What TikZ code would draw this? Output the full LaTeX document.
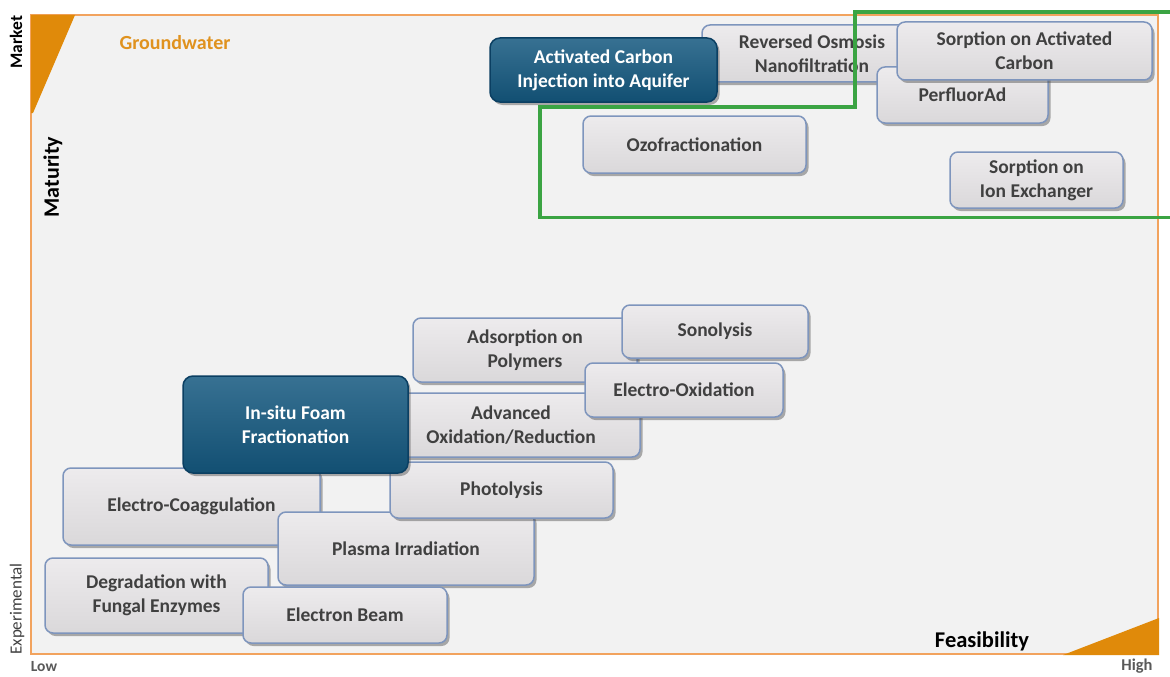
\documentclass[tikz,border=0pt]{standalone}
\usepackage{fontspec}
\setmainfont{Carlito}
\usetikzlibrary{shadows}
\definecolor{frameor}{HTML}{F2A35E}
\definecolor{triangor}{HTML}{E08A0A}
\definecolor{bgray}{HTML}{F2F2F2}
\definecolor{boxborder}{HTML}{7E95BD}
\definecolor{boxtext}{HTML}{404040}
\definecolor{darkbox}{HTML}{14587F}
\definecolor{darkborder}{HTML}{0B3F62}
\definecolor{greenline}{HTML}{3BA443}
\definecolor{groundor}{HTML}{E0921E}
\definecolor{HTML1}{HTML}{EDEBED}
\definecolor{HTML2}{HTML}{DAD8DA}
\tikzset{
  gbox/.style={draw=boxborder, line width=1.5pt, rounded corners=8pt,
    top color=HTML1, bottom color=HTML2, text=boxtext, align=center,
    font=\fontsize{19.5}{24}\selectfont\bfseries, inner sep=0pt,
    drop shadow={shadow xshift=2.5pt, shadow yshift=-3pt, opacity=0.45, fill=black!70}},
  dbox/.style={gbox, draw=darkborder, top color=darkbox!85!white, bottom color=darkbox!90!black,
    text=white, rounded corners=10pt},
  axlabel/.style={text=black},
}
\begin{document}
\begin{tikzpicture}[x=1pt,y=-1pt]
\useasboundingbox (0,0) rectangle (1170,677);
\fill[white] (0,0) rectangle (1170,677);
% frame
\fill[bgray] (31,15) rectangle (1158,654);
\draw[frameor, line width=2pt] (31,15) rectangle (1158,654);
\fill[triangor] (31,15) -- (75,15) -- (33,113) -- (31,113) -- cycle;
\fill[triangor] (1063,655) -- (1159,655) -- (1159,618) -- cycle;
% axis texts
\node[axlabel, font=\fontsize{17.5}{17.5}\selectfont\bfseries, rotate=90] (market) at (16,42) {Market};
\node[axlabel, font=\fontsize{22}{22}\selectfont\bfseries, rotate=90] (maturity) at (53,177) {Maturity};
\node[font=\fontsize{17}{17}\selectfont, text=black!75, rotate=90] (experimental) at (17,609) {Experimental};
\node[font=\fontsize{15.5}{15.5}\selectfont\bfseries, text=black!65] (low) at (44,667) {Low};
\node[font=\fontsize{16.5}{16.5}\selectfont\bfseries, text=black!65] (high) at (1137,666) {High};
\node[axlabel, font=\fontsize{22.5}{22.5}\selectfont\bfseries] (feas) at (982,641) {Feasibility};
\node[font=\fontsize{20}{20}\selectfont\bfseries, text=groundor] (gw) at (175,43) {Groundwater};
% boxes, back to front
\node[gbox, minimum width=220pt, minimum height=57pt] (ro) at (812,53.5) {Reversed Osmosis\\Nanofiltration};
\node[gbox, minimum width=171pt, minimum height=56pt] (pfa) at (962.5,95) {PerfluorAd};
\node[gbox, minimum width=255pt, minimum height=58pt] (soac) at (1024.5,51) {Sorption on Activated\\Carbon};
\node[dbox, minimum width=227pt, minimum height=64pt] (aci) at (603.5,70) {Activated Carbon\\Injection into Aquifer};
\node[gbox, minimum width=223pt, minimum height=57pt] (ozo) at (694.5,144.5) {Ozofractionation};
\node[gbox, minimum width=173pt, minimum height=56pt] (sion) at (1036.5,180) {Sorption on\\Ion Exchanger};
\node[gbox, minimum width=224pt, minimum height=64pt] (adsp) at (525,350) {Adsorption on\\Polymers};
\node[gbox, minimum width=186pt, minimum height=53pt] (sono) at (715,331.5) {Sonolysis};
\node[gbox, minimum width=258pt, minimum height=64pt] (adv) at (511,425) {Advanced\\Oxidation/Reduction};
\node[gbox, minimum width=198pt, minimum height=54pt] (eox) at (684,390) {Electro-Oxidation};
\node[gbox, minimum width=257pt, minimum height=77pt] (coag) at (191.5,506.5) {Electro-Coaggulation};
\node[gbox, minimum width=256pt, minimum height=73pt] (plasma) at (406,548.5) {Plasma Irradiation};
\node[gbox, minimum width=223pt, minimum height=56pt] (photo) at (501.5,490) {Photolysis};
\node[dbox, minimum width=225pt, minimum height=97pt] (insitu) at (295.5,424.5) {In-situ Foam\\Fractionation};
\node[gbox, minimum width=223pt, minimum height=75pt] (degr) at (156.5,595.5) {Degradation with\\Fungal Enzymes};
\node[gbox, minimum width=204pt, minimum height=56pt] (ebeam) at (345,615) {Electron Beam};
% green outline
\coordinate (g1) at (1175,12);
\coordinate (g2) at (855,12);
\coordinate (g3) at (855,107);
\coordinate (g4) at (540,107);
\coordinate (g5) at (540,217.5);
\coordinate (g6) at (1175,217.5);
\draw[greenline, line width=3.5pt, line join=miter] (g1) -- (g2) -- (g3) -- (g4) -- (g5) -- (g6);
\end{tikzpicture}
\end{document}
